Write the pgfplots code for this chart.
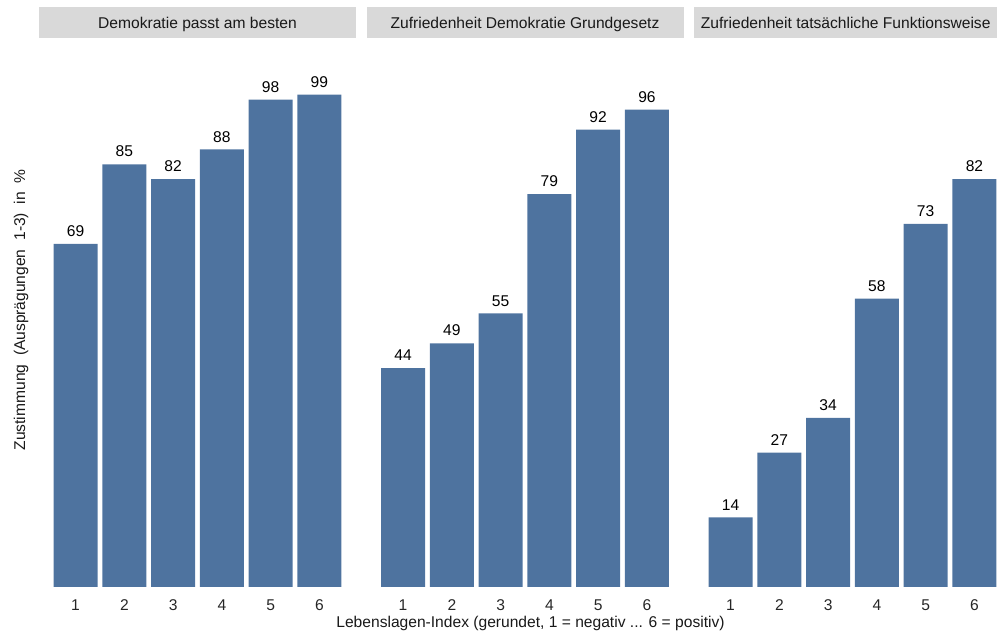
\documentclass[border=0pt]{standalone}
\usepackage{pgfplots}
\pgfplotsset{compat=1.18}
\usepackage{fontspec}
\setmainfont{Liberation Sans}
\definecolor{barblue}{HTML}{4E739F}
\definecolor{stripgray}{HTML}{D9D9D9}
\newcommand{\chartfont}{\fontsize{15.6}{18}\selectfont}
\pgfplotsset{
 panel/.style={
  at={(#1pt,47pt)}, anchor=south west,
  scale only axis, width=317pt, height=547pt,
  xmin=0.25, xmax=6.75, ymin=0, ymax=110,
  /pgf/number format/assume math mode=true,
  axis line style={draw=none}, tick style={draw=none},
  ytick=\empty, xtick={1,2,3,4,5,6},
  xticklabel style={font=\chartfont, text=black!85, inner sep=0pt, anchor=north, yshift=-8pt},
  ybar, bar width=0.9,
  nodes near coords,
  nodes near coords style={font=\chartfont, text=black, inner sep=0pt, anchor=south, yshift=7pt},
  title style={at={(0.5,1)}, anchor=south, yshift=-4pt, fill=stripgray, minimum width=317pt, minimum height=31pt, inner sep=0pt, text height=11.6pt, text depth=0pt, font=\chartfont, text=black!90},
  clip=false,
 }
}
\begin{document}
\begin{tikzpicture}
\path[use as bounding box] (0,0) rectangle (998pt,634pt);
\clip (0,0) rectangle (998pt,634pt);
\begin{axis}[panel=39, title={Demokratie passt am besten}]
\addplot[fill=barblue, draw=none] coordinates {(1,69) (2,85) (3,82) (4,88) (5,98) (6,99)};
\end{axis}
\begin{axis}[panel=366.5, title={Zufriedenheit Demokratie Grundgesetz}]
\addplot[fill=barblue, draw=none] coordinates {(1,44) (2,49) (3,55) (4,79) (5,92) (6,96)};
\end{axis}
\begin{axis}[panel=694, title={Zufriedenheit tatsächliche Funktionsweise}, title style={at={(0,1)}, anchor=south west, minimum width=303pt}]
\addplot[fill=barblue, draw=none] coordinates {(1,14) (2,27) (3,34) (4,58) (5,73) (6,82)};
\end{axis}
\node[font=\chartfont, text=black!90, inner sep=0pt] at (530.5pt,11pt) {Lebenslagen-Index (gerundet, 1 = negativ ... 6 = positiv)};
\node[font=\chartfont, text=black!90, inner sep=0pt, rotate=90] at (21pt,324pt) {Zustimmung\ \ (Ausprägungen\ \ 1-3)\ \ in\ \ \%};
\end{tikzpicture}
\end{document}
